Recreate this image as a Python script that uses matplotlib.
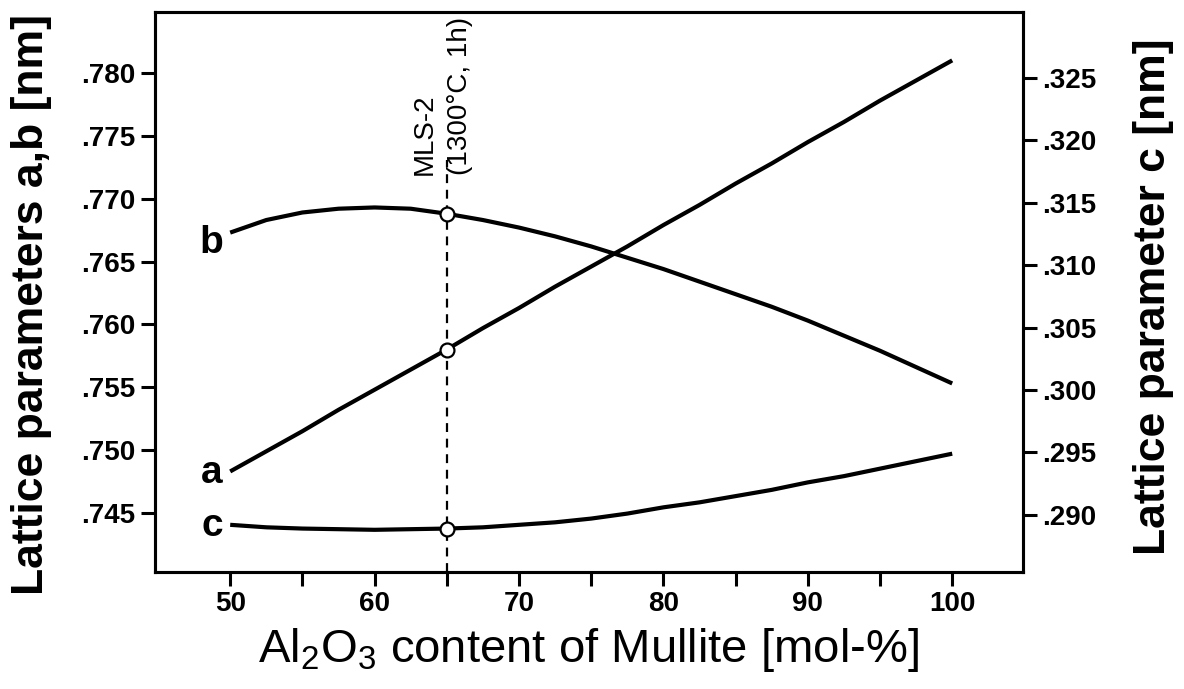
"""Lattice parameters of mullite vs. Al2O3 content (a, b left axis; c right axis)."""

import matplotlib

matplotlib.use("Agg")
import matplotlib.pyplot as plt
from matplotlib.ticker import FixedLocator, FuncFormatter

plt.rcParams["font.family"] = ["Liberation Sans", "DejaVu Sans"]
plt.rcParams["font.weight"] = "bold"
plt.rcParams["mathtext.default"] = "regular"

X = [50, 52.5, 55, 57.5, 60, 62.5, 65, 67.5, 70, 72.5, 75, 77.5, 80, 82.5, 85, 87.5, 90,
     92.5, 95, 97.5, 100]
A_NM = [0.7483, 0.7499, 0.7515, 0.7532, 0.7548, 0.7564, 0.7580, 0.7597, 0.7613, 0.7630,
        0.7646, 0.7662, 0.7679, 0.7695, 0.7712, 0.7728, 0.7745, 0.7761, 0.7778, 0.7794, 0.7810]
B_NM = [0.7673, 0.7683, 0.7689, 0.7692, 0.7693, 0.7692, 0.7688, 0.7683, 0.7677, 0.7670,
        0.7662, 0.7653, 0.7644, 0.7634, 0.7624, 0.7614, 0.7603, 0.7591, 0.7579, 0.7566, 0.7553]
C_NM = [0.2892, 0.2890, 0.2889, 0.28885, 0.2888, 0.28885, 0.2889, 0.2890, 0.2892, 0.2894,
        0.2897, 0.2901, 0.2906, 0.2910, 0.2915, 0.2920, 0.2926, 0.2931, 0.2937, 0.2943, 0.2949]

MLS2_X = 65
MLS2_A = 0.7580
MLS2_B = 0.7688
MLS2_C = 0.2889

X_TICKS = [50, 60, 70, 80, 90, 100]
X_MINOR = [55, 65, 75, 85, 95]
LEFT_TICKS = [0.745, 0.750, 0.755, 0.760, 0.765, 0.770, 0.775, 0.780]
RIGHT_TICKS = [0.290, 0.295, 0.300, 0.305, 0.310, 0.315, 0.320, 0.325]

INK = "#000000"


def dotless(v, _pos):
    return f"{v:.3f}".lstrip("0")


def main():
    fig = plt.figure(figsize=(11.84, 6.89), dpi=100, facecolor="white")
    ax = fig.add_axes([0.131, 0.170, 0.733, 0.8126])
    ax2 = ax.twinx()

    ax.set_xlim(44.8, 104.9)
    ax.set_ylim(0.74031, 0.78485)
    ax2.set_ylim(0.28543, 0.33029)

    ax.plot(X, A_NM, color=INK, lw=3, solid_capstyle="butt")
    ax.plot(X, B_NM, color=INK, lw=3, solid_capstyle="butt")
    ax2.plot(X, C_NM, color=INK, lw=3, solid_capstyle="butt")

    ax.plot([MLS2_X, MLS2_X], [0.74031, 0.7731], color=INK, lw=1.6, ls=(0, (4, 3)), zorder=1)
    ax.plot([MLS2_X, MLS2_X], [MLS2_A, MLS2_B], ls="none", marker="o", ms=10,
            mfc="white", mec=INK, mew=1.6, zorder=5)
    ax2.plot([MLS2_X], [MLS2_C], ls="none", marker="o", ms=10,
             mfc="white", mec=INK, mew=1.6, zorder=5)

    ax.text(63.5, 0.7719, "MLS-2", rotation=90, ha="center", va="bottom",
            fontsize=20, fontweight="normal")
    ax.text(65.9, 0.7719, "(1300°C, 1h)", rotation=90, ha="center", va="bottom",
            fontsize=20, fontweight="normal")

    ax.text(49.5, B_NM[0] - 0.0008, "b", ha="right", va="center", fontsize=28)
    ax.text(49.5, A_NM[0] - 0.0001, "a", ha="right", va="center", fontsize=28)
    ax2.text(49.5, C_NM[0] - 0.0001, "c", ha="right", va="center", fontsize=28)

    ax.xaxis.set_major_locator(FixedLocator(X_TICKS))
    ax.xaxis.set_minor_locator(FixedLocator(X_MINOR))
    ax.yaxis.set_major_locator(FixedLocator(LEFT_TICKS))
    ax.yaxis.set_major_formatter(FuncFormatter(dotless))
    ax2.yaxis.set_major_locator(FixedLocator(RIGHT_TICKS))
    ax2.yaxis.set_major_formatter(FuncFormatter(dotless))

    for a in (ax, ax2):
        for sp in a.spines.values():
            sp.set_linewidth(2.2)
            sp.set_color(INK)
        a.tick_params(which="both", direction="out", length=10, width=2.2, colors=INK,
                      labelsize=20, pad=4)

    ax.set_xlabel(r"Al$_2$O$_3$ content of Mullite [mol-%]", fontsize=34,
                  fontweight="normal", labelpad=6)
    ax.set_ylabel("Lattice parameters a,b [nm]", fontsize=32, fontweight="bold")
    ax2.set_ylabel("Lattice parameter c [nm]", fontsize=32, fontweight="bold")
    ax.yaxis.set_label_coords(-0.119, 0.477)
    ax2.yaxis.set_label_coords(1.127, 0.491)

    fig.savefig("out.png", dpi=100, facecolor="white")


if __name__ == "__main__":
    main()
